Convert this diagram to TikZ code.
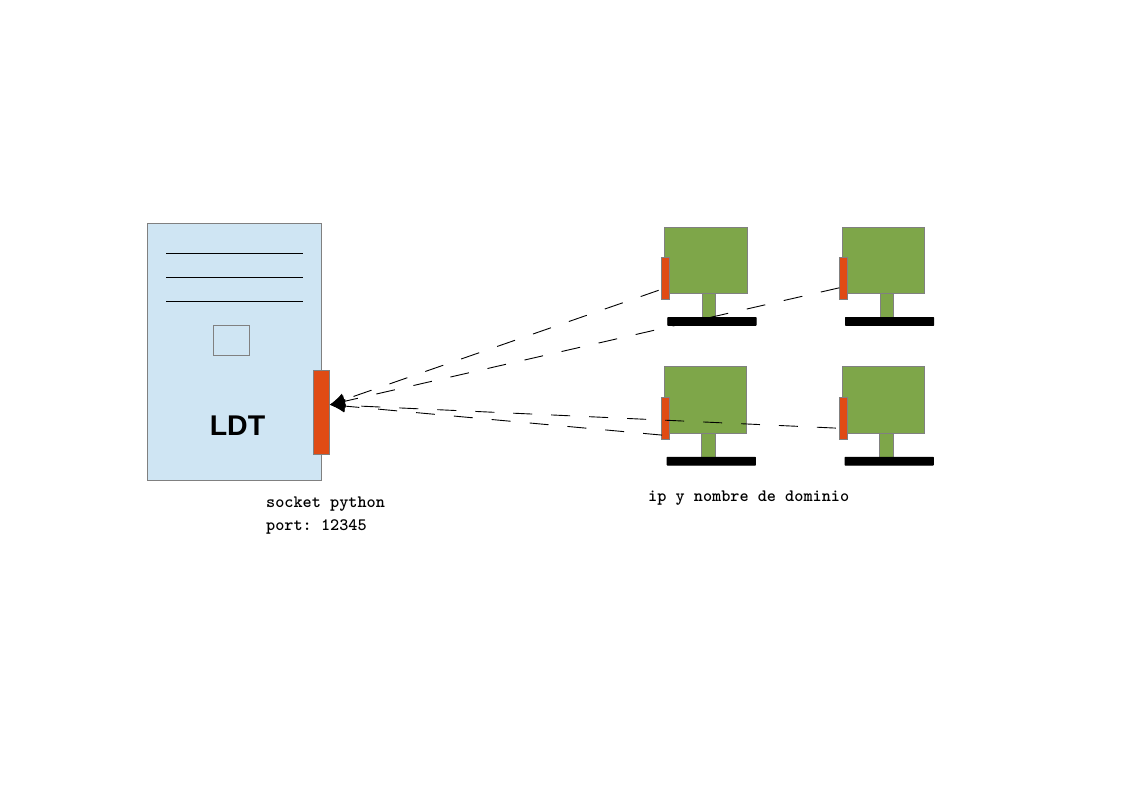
\documentclass[tikz,border=0pt]{standalone}
\usepackage{fontspec}
\setsansfont{Liberation Sans}
\usetikzlibrary{arrows.meta}
\definecolor{srvblue}{HTML}{CFE5F3}
\definecolor{scrgreen}{HTML}{7EA649}
\definecolor{portred}{HTML}{E04B14}
\definecolor{edgegray}{HTML}{808080}
\tikzset{
  box/.style={draw=edgegray,line width=0.8pt,inner sep=0pt,outer sep=0pt,anchor=north west},
  server/.style={box,fill=srvblue,minimum width=174.4pt,minimum height=257.4pt},
  slot/.style={box,fill=srvblue,minimum width=36.4pt,minimum height=30pt},
  rackline/.style={black,line width=0.9pt},
  screen/.style={box,fill=scrgreen,minimum width=82.2pt,minimum height=66.4pt},
  neck/.style={box,fill=scrgreen,minimum width=13.4pt,minimum height=24pt},
  stand/.style={box,draw=black,fill=black,rounded corners=0.5pt,minimum width=88.4pt,minimum height=8pt},
  nic/.style={box,fill=portred,minimum width=8.2pt,minimum height=42pt},
  mainport/.style={box,fill=portred,minimum width=16pt,minimum height=84pt},
  link/.style={black,line width=0.9pt,dash pattern=on 19pt off 19pt,-{Latex[length=15pt,width=13pt]}},
  note/.style={font=\fontsize{17.4}{23}\selectfont\ttfamily\bfseries\frenchspacing,inner sep=0pt,anchor=base west,align=left},
}
\newcommand{\monitor}[3]{%
  \node[screen] (s#1) at (#2,#3) {};
  \node[neck] (n#1) at (#2+37.6,#3+66.4) {};
  \node[stand] (b#1) at (#2+3,#3+90.4) {};
  \node[nic] (p#1) at (#2-3.1,#3+30.3) {};
}
\begin{document}
\begin{tikzpicture}[x=1pt,y=-1pt]
\useasboundingbox (0,0) rectangle (1123,794);
\node[server] (srv) at (147.4,223.3) {};
\coordinate (la) at (166,253.3); \coordinate (ra) at (303,253.3);
\coordinate (lb) at (166,277.3); \coordinate (rb) at (303,277.3);
\coordinate (lc) at (166,301.3); \coordinate (rc) at (303,301.3);
\draw[rackline] (la) -- (ra);
\draw[rackline] (lb) -- (rb);
\draw[rackline] (lc) -- (rc);
\node[slot] (slot) at (213.3,325.7) {};
\node[mainport] (main) at (313.8,370.7) {};
\node[font=\fontsize{28.5}{30}\selectfont\sffamily\bfseries,inner sep=0pt] (ldt) at (237.5,425.5) {LDT};
\monitor{1}{664.7}{227}
\monitor{2}{842.4}{227}
\monitor{3}{664.1}{366.8}
\monitor{4}{842}{366.8}
\draw[link] ([yshift=-12pt]p1.west) ++(-3,0) -- ([yshift=8pt]main.east);
\draw[link] ([yshift=-9.5pt]p2.west) -- ([yshift=8pt]main.east);
\draw[link] ([yshift=-17pt]p3.west) ++(1,0) -- ([yshift=8pt]main.east);
\draw[link] ([yshift=-10pt]p4.west) ++(-3,0) -- ([yshift=8pt]main.east);
\node[note] (sock) at (266,530.3) {socket python\\port: 12345};
\node[note] (dom) at (648,501.7) {ip y nombre de dominio};
\end{tikzpicture}
\end{document}
